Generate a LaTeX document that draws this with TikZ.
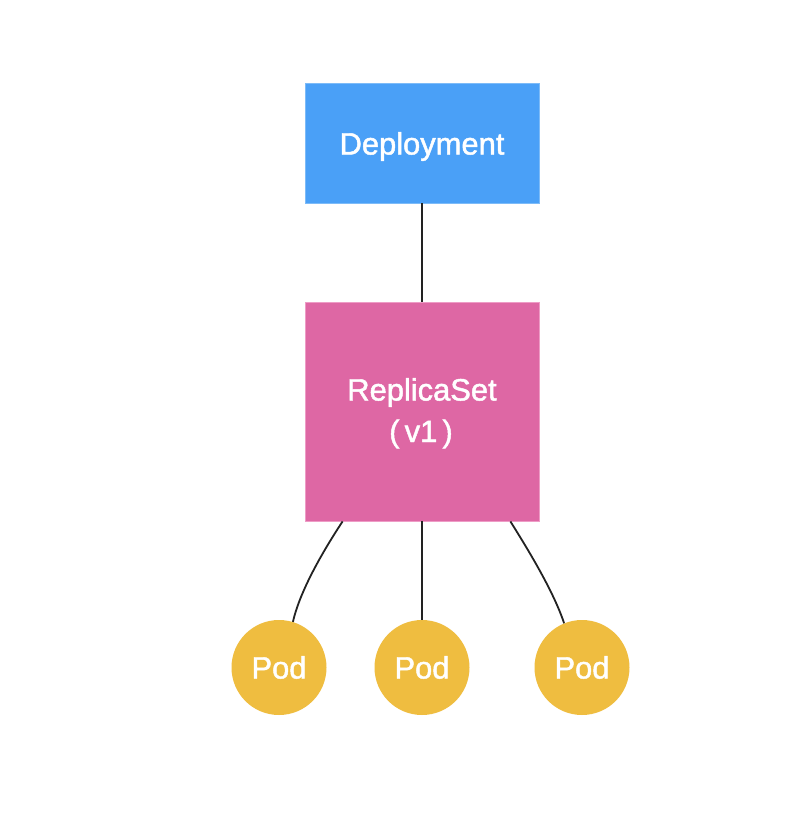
\documentclass[tikz,border=0pt]{standalone}
\usepackage{fontspec}
\setmainfont{Liberation Sans}
\newfontfamily\labelfont{Liberation Sans}[FakeBold=1.5]
\definecolor{depblue}{HTML}{4AA0F7}
\definecolor{depedge}{HTML}{7DBBF8}
\definecolor{rspink}{HTML}{DE67A4}
\definecolor{rsedge}{HTML}{EE9CC6}
\definecolor{podgold}{HTML}{EFBD40}
\definecolor{linedark}{HTML}{222222}
\begin{document}
\begin{tikzpicture}[x=1bp,y=-1bp]
\tikzset{
  boxstyle/.style={rectangle, inner sep=0pt, minimum width=234bp, line width=0.8bp},
  labelstyle/.style={anchor=base, inner sep=0pt, text=white, font=\labelfont\fontsize{31}{36}\selectfont},
  podstyle/.style={circle, fill=podgold, inner sep=0pt, minimum size=95bp},
  linkstyle/.style={draw=linedark, line width=1.8bp}
}
\useasboundingbox (0,0) rectangle (812,838);
\fill[white] (0,0) rectangle (812,838);
\node[boxstyle, fill=depblue, draw=depedge, minimum height=120bp] (dep) at (422,143) {};
\node[labelstyle] (deplabel) at (422,154.5) {Deployment};
\node[boxstyle, fill=rspink, draw=rsedge, minimum height=219bp] (rs) at (422,411.5) {};
\node[labelstyle] (rslabel) at (422,400.5) {ReplicaSet};
\node[labelstyle] (rsver) at (421,442) {(\,v1\,)};
\node[podstyle] (p1) at (279,667.5) {};
\node[podstyle] (p2) at (422,667.5) {};
\node[podstyle] (p3) at (582,667.5) {};
\node[labelstyle] (p1label) at (279,678.5) {Pod};
\node[labelstyle] (p2label) at (422,678.5) {Pod};
\node[labelstyle] (p3label) at (582,678.5) {Pod};
\draw[linkstyle] (dep.south) -- (rs.north);
\draw[linkstyle] ([xshift=38bp]rs.south west) .. controls (325,548) and (300,590) .. (p1.73);
\draw[linkstyle] (rs.south) -- (p2.north);
\draw[linkstyle] ([xshift=-29bp]rs.south east) .. controls (527,548) and (553,590) .. (p3.112);
\end{tikzpicture}
\end{document}
